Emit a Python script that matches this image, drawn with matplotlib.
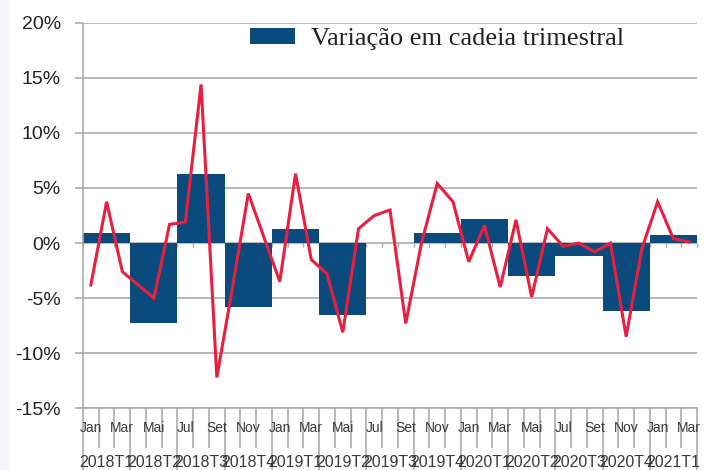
import numpy as np
import matplotlib
matplotlib.use("Agg")
import matplotlib.pyplot as plt
from matplotlib.patches import Rectangle
from matplotlib.ticker import NullFormatter

# monthly chain variation (%), Jan 2018 .. Mar 2021
month_names = ["Jan", "Fev", "Mar", "Abr", "Mai", "Jun",
               "Jul", "Ago", "Set", "Out", "Nov", "Dez"]
monthly = [-3.8, 3.75, -2.6, -3.8, -5.0, 1.7, 1.9, 14.4, -12.2, -4.0, 4.5, 0.5,
           -3.5, 6.3, -1.5, -2.8, -8.1, 1.3, 2.5, 3.0, -7.3, 0.0, 5.4, 3.75,
           -1.7, 1.6, -4.0, 2.1, -4.9, 1.3, -0.3, 0.0, -0.8, 0.0, -8.5, -0.5,
           3.75, 0.4, 0.1]
# quarterly chain variation (%)
quarters = ["2018T1", "2018T2", "2018T3", "2018T4", "2019T1", "2019T2", "2019T3",
            "2019T4", "2020T1", "2020T2", "2020T3", "2020T4", "2021T1"]
quarterly = [0.9, -7.3, 6.3, -5.8, 1.25, -6.5, 0.0, 0.95, 2.2, -3.0, -1.15, -6.15, 0.75]

BLUE = "#0b4a7d"
RED = "#ea1f40"
GRID = "#a6a6a6"
TXT = "#3a3a3a"

n = len(monthly)
xm = np.arange(n)
xq = np.arange(len(quarters)) * 3 + 1

fig = plt.figure(figsize=(7.1, 4.7), dpi=100)
fig.patches.append(Rectangle((0, 0), 8 / 710, 1, transform=fig.transFigure,
                             color="#f3f5f9", zorder=-1))
ax = fig.add_axes([83 / 710, 1 - 408.3 / 470, 614 / 710, 385.6 / 470])

ax.bar(xq, quarterly, width=3, color=BLUE, zorder=2,
       label="Variação em cadeia trimestral")
ax.plot(xm, monthly, color=RED, lw=2.2, zorder=3, solid_joinstyle="miter")

ax.set_xlim(-0.5, n - 0.5)
ax.set_ylim(-15, 20)
ax.set_yticks(np.arange(-15, 21, 5))
ax.set_yticklabels([f"{v}%" for v in range(-15, 21, 5)],
                   fontsize=14, family="Liberation Sans", color="#222222")
ax.yaxis.grid(True, color=GRID, lw=1.1, zorder=0)
ax.set_axisbelow(True)

for s in ["top", "right"]:
    ax.spines[s].set_visible(False)
for s in ["left", "bottom"]:
    ax.spines[s].set_color(GRID)
    ax.spines[s].set_linewidth(1.1)
ax.tick_params(axis="y", length=6, width=1.1, color=GRID, pad=10)

# category axis: month boundaries (minor) and quarter boundaries (major)
ax.set_xticks(np.arange(-0.5, n, 3))
ax.set_xticks(np.arange(-0.5, n, 1), minor=True)
ax.tick_params(axis="x", which="major", length=46, width=1.1, color=GRID, labelbottom=False)
ax.tick_params(axis="x", which="minor", length=29, width=1.1, color=GRID)

trans = ax.get_xaxis_transform()
for i in range(0, n, 2):
    ax.text(i, -0.052, month_names[i % 12], transform=trans, ha="center", va="center",
            fontsize=10, family="Liberation Sans", color=TXT)
for q, lab in zip(xq, quarters):
    ax.text(q, -0.14, lab, transform=trans, ha="center", va="center",
            fontsize=11.5, family="Liberation Sans", color=TXT)

# small ticks hanging from the 0% line
sec = ax.secondary_xaxis(15 / 35)
sec.set_xticks(np.arange(-0.5, n, 1))
sec.xaxis.set_ticks_position("bottom")
sec.xaxis.set_major_formatter(NullFormatter())
sec.tick_params(length=3, width=1, color=GRID, labelbottom=False, labeltop=False)
sec.spines["bottom"].set_visible(False)
sec.spines["top"].set_visible(False)

ax.legend(loc="center left", bbox_to_anchor=(0.272, 0.958), frameon=False,
          prop={"family": "Liberation Serif", "size": 19}, handlelength=1.7,
          handleheight=0.58, handletextpad=0.6, borderpad=0, borderaxespad=0,
          labelcolor="#222222")

fig.savefig("out.png", dpi=100)
